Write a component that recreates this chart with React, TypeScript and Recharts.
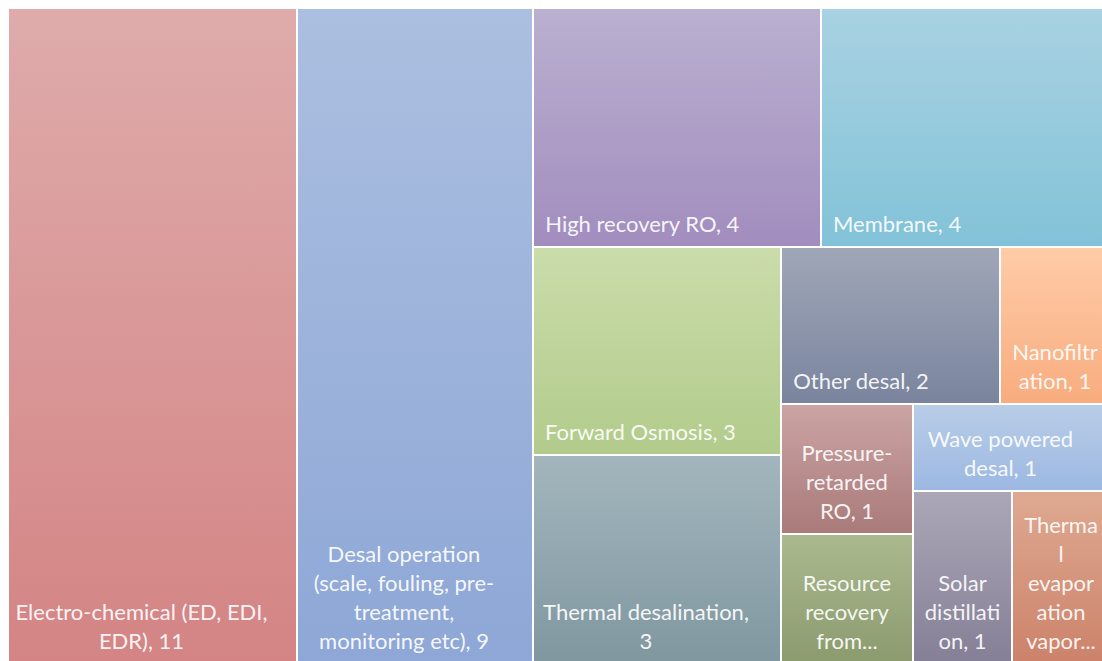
import React from 'react'
import { Treemap } from 'recharts'

// Topic counts. The three single-count cells at the bottom right are ordered
// so the squarify layout lands close to the original.
const categories = [
  'Electro-chemical (ED, EDI, EDR)',
  'Desal operation (scale, fouling, pre-treatment, monitoring etc)',
  'High recovery RO',
  'Membrane',
  'Forward Osmosis',
  'Thermal desalination',
  'Other desal',
  'Nanofiltration',
  'Pressure-retarded RO',
  'Resource recovery from...',
  'Wave powered desal',
  'Solar distillation',
  'Thermal evaporation vapor...',
]

const counts = [11, 9, 4, 4, 3, 3, 2, 1, 1, 1, 1, 1, 1]

// Label text as wrapped in the original
const labelLines = [
  ['Electro-chemical (ED, EDI,', 'EDR), 11'],
  ['Desal operation', '(scale, fouling, pre-', 'treatment,', 'monitoring etc), 9'],
  ['High recovery RO, 4'],
  ['Membrane, 4'],
  ['Forward Osmosis, 3'],
  ['Thermal desalination,', '3'],
  ['Other desal, 2'],
  ['Nanofiltr', 'ation, 1'],
  ['Pressure-', 'retarded', 'RO, 1'],
  ['Resource', 'recovery', 'from...'],
  ['Wave powered', 'desal, 1'],
  ['Solar', 'distillati', 'on, 1'],
  ['Therma', 'l', 'evapor', 'ation', 'vapor...'],
]

const topColors = [
  '#dfabab', '#abbfe0', '#bab0d0', '#a9d2e2', '#cbdcab', '#a3b6be', '#9fa7b7',
  '#ffcca8', '#cca4a4', '#abb98f', '#b9cde7', '#aca7b7', '#dfa991',
]
const bottomColors = [
  '#d48484', '#8ea7d6', '#a28dbe', '#82c2d8', '#b2cb8b', '#80979f', '#7a849e',
  '#f8ac7e', '#a97a7a', '#8b9b6e', '#9cb8e2', '#847f96', '#cc826a',
]

const data = categories.map((name, i) => ({ name, value: counts[i] }))

const FONT_SIZE = 22
const FONT = 'Lato, "Open Sans", sans-serif'
const LINE_HEIGHT = 29

let ctx: CanvasRenderingContext2D | null = null
function measure(text: string) {
  if (!ctx) {
    ctx = document.createElement('canvas').getContext('2d')
  }
  if (!ctx) return text.length * FONT_SIZE * 0.45
  ctx.font = `${FONT_SIZE}px ${FONT}`
  return ctx.measureText(text).width
}

function Tile(props: any) {
  const { x, y, width, height, depth, index } = props
  if (depth !== 1) return null

  const lines: string[] = labelLines[index] || []
  const blockW = Math.max(0, ...lines.map(measure))
  let cx: number
  if (lines.length === 1) {
    // single line labels sit at the left
    cx = x + Math.min(12, (width - blockW) / 2) + blockW / 2
  } else {
    // wrapped labels are centred, a bit left of middle on wider tiles
    cx = x + width / 2 - (width > 150 ? 11 : 0)
  }
  const lastBaseline = y + height - 15
  const gid = `tile-grad-${index}`

  return (
    <g>
      <defs>
        <linearGradient id={gid} x1="0" y1="0" x2="0" y2="1">
          <stop offset="0%" stopColor={topColors[index]} />
          <stop offset="100%" stopColor={bottomColors[index]} />
        </linearGradient>
      </defs>
      <rect
        x={x}
        y={y}
        width={width}
        height={height}
        fill={`url(#${gid})`}
        stroke="#ffffff"
        strokeWidth={2}
      />
      {lines.map((line, i) => (
        <text
          key={i}
          x={cx}
          y={lastBaseline - (lines.length - 1 - i) * LINE_HEIGHT}
          textAnchor="middle"
          fontFamily={FONT}
          fontSize={FONT_SIZE}
          fill="#ffffff"
          fillOpacity={0.93}
        >
          {line}
        </text>
      ))}
    </g>
  )
}

export default function App() {
  return (
    <div
      style={{
        position: 'absolute',
        left: 8,
        top: 8,
        width: 1094,
        height: 653,
        overflow: 'hidden',
      }}
    >
      <Treemap
        width={1102}
        height={656}
        data={data}
        dataKey="value"
        nameKey="name"
        aspectRatio={0.73}
        isAnimationActive={false}
        content={<Tile />}
      />
    </div>
  )
}
